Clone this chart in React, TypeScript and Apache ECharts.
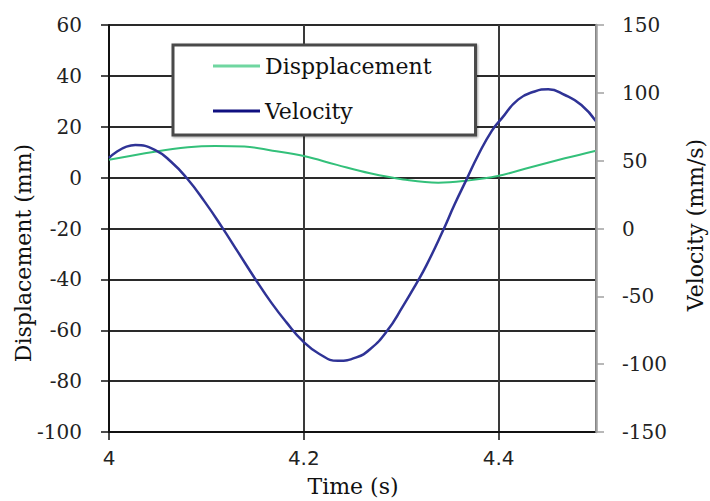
import React, { useEffect, useRef } from "react";
import * as echarts from "echarts";

const xTicks = [4, 4.2, 4.4];
const dispTime = [4.0, 4.047, 4.081, 4.109, 4.139, 4.168, 4.2, 4.234, 4.268, 4.302, 4.338, 4.367, 4.399, 4.433, 4.468, 4.5];
const dispValues = [7, 10.2, 11.9, 12.4, 12.2, 10.6, 8.5, 5.0, 1.7, -0.7, -2.0, -1.2, 0.6, 4.1, 7.6, 10.6];
const velTime = [4.0, 4.027, 4.047, 4.064, 4.08, 4.098, 4.116, 4.133, 4.15, 4.167, 4.182, 4.199, 4.216, 4.235, 4.254, 4.268, 4.285, 4.302, 4.316, 4.326, 4.342, 4.355, 4.367, 4.379, 4.393, 4.403, 4.42, 4.437, 4.451, 4.468, 4.485, 4.5];
const velValues = [52, 61.5, 58, 49, 37, 20, 1, -18, -37, -55, -69, -83, -92.5, -97.5, -95, -89, -76, -57, -40, -27, -3, 18, 36, 54, 72, 81, 95, 101, 102.6, 98.4, 91, 79];

const SERIF = '"DejaVu Serif", "Liberation Serif", serif';
const SANS = '"DejaVu Sans", sans-serif';

export default function App() {
  const ref = useRef<HTMLDivElement>(null);
  useEffect(() => {
    if (!ref.current) return;
    const chart = echarts.init(ref.current, undefined, { renderer: "svg" });
    const dispData = dispTime.map((t, i) => [t, dispValues[i]]);
    const velData = velTime.map((t, i) => [t, velValues[i]]);
    chart.setOption({
      animation: false,
      backgroundColor: "#fff",
      grid: { left: 109, right: 114, top: 25, bottom: 69, containLabel: false },
      xAxis: {
        type: "value",
        min: 4,
        max: 4.5,
        interval: 0.2,
        axisLine: { show: true, onZero: false, lineStyle: { color: "#111", width: 2 } },
        axisTick: { show: true, length: 8, lineStyle: { color: "#111", width: 1.5 } },
        axisLabel: {
          showMaxLabel: false,
          margin: 16,
          color: "#222",
          fontFamily: SANS,
          fontSize: 20,
          formatter: (v: number) => (xTicks.some((x) => Math.abs(x - v) < 1e-6) ? String(Math.round(v * 10) / 10) : ""),
        },
        splitLine: { show: true, lineStyle: { color: "#3a3a3a", width: 2 } },
      },
      yAxis: [
        {
          type: "value",
          min: -100,
          max: 60,
          interval: 20,
          axisLine: { show: true, lineStyle: { color: "#111", width: 2 } },
          axisTick: { show: true, length: 8, lineStyle: { color: "#111", width: 1.5 } },
          axisLabel: { margin: 27, color: "#222", fontFamily: SERIF, fontSize: 20 },
          splitLine: { show: true, lineStyle: { color: "#2a2a2a", width: 2 } },
        },
        {
          type: "value",
          min: -150,
          max: 150,
          interval: 50,
          position: "right",
          z: 5,
          axisLine: { show: true, lineStyle: { color: "#a0a0a0", width: 2.5 } },
          axisTick: { show: true, length: 8, lineStyle: { color: "#a0a0a0", width: 1.5 } },
          axisLabel: { margin: 26, color: "#222", fontFamily: SERIF, fontSize: 20 },
          splitLine: { show: false },
        },
      ],
      legend: {
        orient: "vertical",
        left: 173,
        top: 45,
        padding: [10, 44, 13, 40],
        itemGap: 23,
        itemWidth: 47,
        itemHeight: 3,
        icon: "rect",
        backgroundColor: "#fff",
        borderColor: "#4a4a4a",
        borderWidth: 3,
        shadowColor: "rgba(0,0,0,0.35)",
        shadowBlur: 2,
        shadowOffsetX: 1,
        shadowOffsetY: 1,
        textStyle: { fontFamily: SERIF, fontSize: 22, color: "#111" },
        data: [
          { name: "Dispplacement", itemStyle: { color: "#6fd6a0" } },
          { name: "Velocity", itemStyle: { color: "#101080" } },
        ],
      },
      series: [
        {
          name: "Dispplacement",
          type: "line",
          yAxisIndex: 0,
          data: dispData,
          smooth: 0.4,
          showSymbol: false,
          symbol: "none",
          lineStyle: { color: "#33c07a", width: 2 },
          itemStyle: { color: "#33c07a" },
          z: 3,
        },
        {
          name: "Velocity",
          type: "line",
          yAxisIndex: 1,
          data: velData,
          smooth: 0.5,
          showSymbol: false,
          symbol: "none",
          lineStyle: { color: "#2f3396", width: 2.5 },
          itemStyle: { color: "#2f3396" },
          z: 4,
        },
      ],
      graphic: [
        {
          type: "text",
          x: 23,
          y: 253,
          rotation: Math.PI / 2,
          style: { text: "Displacement (mm)", fontFamily: SERIF, fontSize: 22, fill: "#111", align: "center", verticalAlign: "middle" },
        },
        {
          type: "text",
          x: 695,
          y: 225,
          rotation: Math.PI / 2,
          style: { text: "Velocity (mm/s)", fontFamily: SERIF, fontSize: 22, fill: "#111", align: "center", verticalAlign: "middle" },
        },
        {
          type: "text",
          x: 353,
          y: 486,
          style: { text: "Time (s)", fontFamily: SERIF, fontSize: 22, fill: "#111", align: "center", verticalAlign: "middle" },
        },
      ],
    });
    return () => chart.dispose();
  }, []);
  return <div ref={ref} style={{ position: "fixed", left: 0, top: 0, width: 710, height: 501 }} />;
}
